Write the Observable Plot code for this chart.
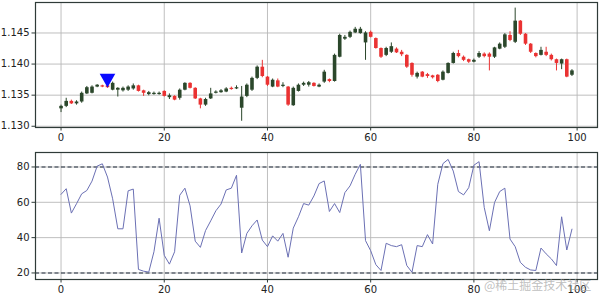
<!DOCTYPE html>
<html><head><meta charset="utf-8">
<script src="https://cdn.jsdelivr.net/npm/d3@7"></script>
<script src="https://cdn.jsdelivr.net/npm/@observablehq/plot@0.6"></script>
<style>
body{margin:0;background:#fff;width:600px;height:294px;overflow:hidden;position:relative;font-family:"DejaVu Sans",sans-serif;}
#top{position:absolute;left:0;top:0}
#bot{position:absolute;left:0;top:146px}
#wm{position:absolute;left:484px;top:276px;font:12px "Noto Sans CJK SC";color:rgba(170,170,170,0.75);white-space:nowrap}
</style></head><body>
<div id="top"></div><div id="bot"></div><div id="wm">@稀土掘金技术社区</div>
<script>
const open = [1.1328,1.1332,1.1340,1.1336,1.1339,1.1352,1.1353,1.1363,1.1365,1.1365,
1.1358,1.1358,1.1357,1.1358,1.1360,1.1365,1.1357,1.1351,1.1351,1.1351,
1.1356,1.1346,1.1348,1.1345,1.1358,1.1369,1.1361,1.1344,1.1334,1.1344,
1.1353,1.1354,1.1355,1.1361,1.1360,1.1329,1.1348,1.1358,1.1377,1.1395,
1.1379,1.1363,1.1373,1.1364,1.1363,1.1333,1.1356,1.1366,1.1366,1.1369,
1.1363,1.1371,1.1375,1.1372,1.1411,1.1440,1.1443,1.1450,1.1449,1.1434,
1.1451,1.1441,1.1425,1.1414,1.1419,1.1424,1.1419,1.1414,1.1401,1.1379,
1.1387,1.1383,1.1381,1.1382,1.1374,1.1385,1.1401,1.1417,1.1411,1.1407,
1.1403,1.1411,1.1416,1.1416,1.1411,1.1424,1.1427,1.1446,1.1435,1.1469,
1.1448,1.1432,1.1417,1.1414,1.1419,1.1414,1.1407,1.1400,1.1407,1.1382];
const close = [1.1332,1.1340,1.1336,1.1339,1.1353,1.1362,1.1363,1.1366,1.1363,1.1362,
1.1369,1.1361,1.1361,1.1363,1.1365,1.1356,1.1353,1.1354,1.1353,1.1353,
1.1348,1.1349,1.1342,1.1358,1.1369,1.1361,1.1344,1.1334,1.1343,1.1352,
1.1355,1.1357,1.1360,1.1359,1.1362,1.1347,1.1366,1.1377,1.1395,1.1380,
1.1366,1.1374,1.1363,1.1366,1.1334,1.1361,1.1366,1.1369,1.1370,1.1364,
1.1366,1.1387,1.1372,1.1414,1.1446,1.1443,1.1451,1.1456,1.1456,1.1450,
1.1443,1.1425,1.1411,1.1425,1.1428,1.1418,1.1415,1.1395,1.1382,1.1385,
1.1379,1.1380,1.1378,1.1372,1.1387,1.1401,1.1417,1.1412,1.1406,1.1403,
1.1406,1.1417,1.1412,1.1411,1.1426,1.1432,1.1447,1.1438,1.1469,1.1448,
1.1432,1.1419,1.1412,1.1422,1.1414,1.1407,1.1401,1.1407,1.1379,1.1389];
const high = [1.1334,1.1345,1.1342,1.1341,1.1355,1.1364,1.1365,1.1367,1.1366,1.1366,
1.1371,1.1362,1.1363,1.1365,1.1368,1.1366,1.1358,1.1356,1.1355,1.1355,
1.1357,1.1352,1.1349,1.1360,1.1370,1.1370,1.1362,1.1345,1.1345,1.1361,
1.1357,1.1359,1.1362,1.1363,1.1365,1.1364,1.1368,1.1379,1.1397,1.1406,
1.1380,1.1376,1.1376,1.1370,1.1364,1.1363,1.1368,1.1371,1.1372,1.1370,
1.1368,1.1390,1.1376,1.1416,1.1448,1.1446,1.1453,1.1459,1.1459,1.1452,
1.1453,1.1442,1.1426,1.1427,1.1434,1.1426,1.1422,1.1415,1.1402,1.1387,
1.1388,1.1385,1.1382,1.1383,1.1389,1.1402,1.1419,1.1422,1.1413,1.1408,
1.1408,1.1420,1.1418,1.1418,1.1427,1.1434,1.1449,1.1452,1.1490,1.1470,
1.1449,1.1433,1.1418,1.1427,1.1427,1.1416,1.1408,1.1408,1.1408,1.1391];
const low = [1.1322,1.1330,1.1335,1.1334,1.1337,1.1351,1.1352,1.1362,1.1362,1.1361,
1.1357,1.1347,1.1355,1.1356,1.1358,1.1355,1.1348,1.1349,1.1350,1.1350,
1.1347,1.1343,1.1341,1.1342,1.1357,1.1360,1.1343,1.1328,1.1332,1.1343,
1.1352,1.1353,1.1354,1.1358,1.1359,1.1308,1.1346,1.1356,1.1375,1.1378,
1.1364,1.1362,1.1362,1.1362,1.1332,1.1332,1.1355,1.1364,1.1363,1.1363,
1.1362,1.1369,1.1370,1.1371,1.1410,1.1438,1.1441,1.1449,1.1448,1.1406,
1.1442,1.1424,1.1409,1.1412,1.1417,1.1417,1.1412,1.1393,1.1379,1.1376,
1.1378,1.1377,1.1376,1.1370,1.1373,1.1384,1.1400,1.1410,1.1404,1.1401,
1.1402,1.1409,1.1410,1.1389,1.1409,1.1423,1.1425,1.1436,1.1433,1.1446,
1.1430,1.1417,1.1410,1.1413,1.1412,1.1405,1.1389,1.1391,1.1378,1.1380];
const rsi = [64.5,67.7,53.9,59.2,64.8,66.7,72,80.5,81.8,74.3,
62,45,45,66.5,67.5,22,21,20.5,32,51,
30,25,32,64,68,58,38,34.5,44,49.5,
55.2,59,67,68,75.3,31.3,42.4,46.7,50,38.6,
34.9,41,38,42.4,28.9,45.4,51.8,59.3,58.4,63.6,
70.6,72.1,54.8,59.3,54.2,65.5,69.3,75.9,81.5,38.3,
32.6,24.7,21.4,36.8,35.5,34.9,36,24.2,20.4,35.5,
34.9,41.7,36.4,70.2,81.9,84.3,77.7,66.1,64.2,68.3,
81,83,57.1,43.9,59.9,66.1,68,39.2,34.9,26,
23.2,21.7,21.4,34.1,30.8,28,24.2,51.8,33,44.8];
const signalX = [9];
const signalY = [1.1377];
const xTicks = [0,20,40,60,80,100];
const priceTicks = [1.130,1.135,1.140,1.145];
const rsiTicks = [20,40,60,80];
const rsiLevels = [20,80];

const GREEN = "#2b472b", RED = "#ea3232", GRID = "#b8b8b8", AX = "#2f3b38";
const candles = open.map((o,i)=>({i, o, h:high[i], l:low[i], c:close[i], col: close[i]>=o ? GREEN : RED}));
const rsiData = rsi.map((v,i)=>({i, v}));
const signals = signalX.map((x,k)=>({x, y:signalY[k]}));
const style = {fontFamily:"DejaVu Sans", fontSize:"10px", color:"#222", background:"transparent", overflow:"visible"};
const xdom = [-4.95,103.95];

const topPlot = Plot.plot({
  width:600, height:146, marginLeft:35, marginRight:3, marginTop:2, marginBottom:19, style,
  x:{domain:xdom}, y:{domain:[1.1298,1.1499]},
  marks:[
    Plot.gridX(xTicks,{stroke:GRID, strokeOpacity:1, strokeWidth:0.9}),
    Plot.gridY(priceTicks,{stroke:GRID, strokeOpacity:1, strokeWidth:0.9}),
    Plot.ruleX(candles,{x:"i", y1:"l", y2:"h", stroke:"col", strokeWidth:1}),
    Plot.ruleX(candles,{x:"i", y1:"o", y2:"c", stroke:"col", strokeWidth:3.6}),
    Plot.dot(signals,{x:"x", y:"y", symbol:"triangle", rotate:180, r:5.8, fill:"#0a0aff", stroke:null}),
    Plot.frame({stroke:AX, strokeWidth:1.2}),
    Plot.axisX(xTicks,{tickSize:3.5, tickPadding:2.5, stroke:AX, fill:"#222", label:null}),
    Plot.axisY(priceTicks,{tickSize:3.5, tickPadding:2.5, stroke:AX, fill:"#222", tickFormat:d3.format(".3f"), label:null})
  ]
});
document.getElementById("top").appendChild(topPlot);

const botPlot = Plot.plot({
  width:600, height:148, marginLeft:35, marginRight:3, marginTop:6, marginBottom:15, style,
  x:{domain:xdom}, y:{domain:[16.3,88.2]},
  marks:[
    Plot.gridX(xTicks,{stroke:GRID, strokeOpacity:1, strokeWidth:0.9}),
    Plot.gridY(rsiTicks,{stroke:GRID, strokeOpacity:1, strokeWidth:0.9}),
    Plot.ruleY(rsiLevels,{stroke:"#1e2a3a", strokeWidth:1.1, strokeDasharray:"4,2.5"}),
    Plot.line(rsiData,{x:"i", y:"v", stroke:"#6b70b4", strokeWidth:1}),
    Plot.frame({stroke:AX, strokeWidth:1.2}),
    Plot.axisX(xTicks,{tickSize:3.5, tickPadding:2.5, stroke:AX, fill:"#222", label:null}),
    Plot.axisY(rsiTicks,{tickSize:3.5, tickPadding:2.5, stroke:AX, fill:"#222", label:null})
  ]
});
document.getElementById("bot").appendChild(botPlot);
</script>
</body></html>
